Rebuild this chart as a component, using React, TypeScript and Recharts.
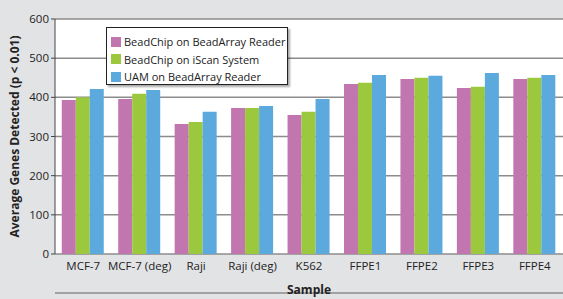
import { BarChart, Bar, XAxis, YAxis, CartesianGrid } from "recharts";

const samples = ["MCF-7", "MCF-7 (deg)", "Raji", "Raji (deg)", "K562", "FFPE1", "FFPE2", "FFPE3", "FFPE4"];
const beadArray = [393, 396, 332, 373, 355, 434, 447, 424, 447];
const iScan = [400, 409, 337, 373, 363, 437, 450, 427, 450];
const uam = [421, 419, 363, 378, 396, 457, 455, 462, 457];
const yTicks = [0, 100, 200, 300, 400, 500, 600];
const boundaryTicks = [0, 1, 2, 3, 4, 5, 6, 7, 8, 9];

const seriesNames = ["BeadChip on BeadArray Reader", "BeadChip on iScan System", "UAM on BeadArray Reader"];
const COLORS = ["#c276b0", "#9bc83c", "#5ca9de"];

const FONT = '"Open Sans", "Liberation Sans", sans-serif';

const data = samples.map((name, i) => ({
  name,
  idx: i + 0.5,
  a: beadArray[i],
  b: iScan[i],
  c: uam[i],
}));

export default function App() {
  return (
    <div style={{ position: "fixed", left: 0, top: 0, width: 563, height: 299, background: "#e2e3e5", fontFamily: FONT }}>
      <BarChart
        width={563}
        height={299}
        data={data}
        margin={{ top: 19, right: 0, bottom: 0, left: 0 }}
        barCategoryGap="12%"
        barGap={0}
      >
        <CartesianGrid vertical={false} fill="#ffffff" stroke="#8c8c8c" strokeWidth={1.5} />
        <XAxis
          xAxisId="ticks"
          type="number"
          dataKey="idx"
          domain={[0, 9]}
          ticks={boundaryTicks}
          tick={false}
          tickSize={4}
          height={6}
          stroke="#8c8c8c"
          strokeWidth={1.5}
        />
        <XAxis
          dataKey="name"
          height={39}
          axisLine={false}
          tickLine={false}
          interval={0}
          tick={{ fontSize: 11.5, fill: "#222", fontFamily: FONT }}
          tickMargin={2}
          label={{ value: "Sample", position: "insideBottom", offset: 0, dy: 1, fontSize: 12, fontWeight: 700, fill: "#222", fontFamily: FONT }}
        />
        <YAxis
          domain={[0, 600]}
          ticks={yTicks}
          width={55}
          stroke="#444"
          tickSize={4}
          tick={{ fontSize: 11.5, fill: "#222", fontFamily: FONT }}
          label={{ value: "Average Genes Detected (p < 0.01)", angle: -90, position: "insideLeft", offset: 15, style: { textAnchor: "middle" }, fontSize: 12, fontWeight: 700, fill: "#222", fontFamily: FONT }}
        />
        <Bar dataKey="a" fill={COLORS[0]} isAnimationActive={false} />
        <Bar dataKey="b" fill={COLORS[1]} isAnimationActive={false} />
        <Bar dataKey="c" fill={COLORS[2]} isAnimationActive={false} />
      </BarChart>
      <div
        style={{
          position: "absolute",
          left: 106,
          top: 27,
          width: 182,
          height: 58,
          background: "#fff",
          border: "1.5px solid #222",
          boxShadow: "2px 2px 2px rgba(0,0,0,0.35)",
          padding: "5px 0 0 4px",
          boxSizing: "border-box",
        }}
      >
        {seriesNames.map((s, i) => (
          <div key={s} style={{ display: "flex", alignItems: "center", height: 17.5, fontSize: 11, color: "#222", whiteSpace: "nowrap" }}>
            <span style={{ display: "inline-block", width: 10, height: 10, background: COLORS[i], marginRight: 3 }} />
            {s}
          </div>
        ))}
      </div>
    </div>
  );
}
